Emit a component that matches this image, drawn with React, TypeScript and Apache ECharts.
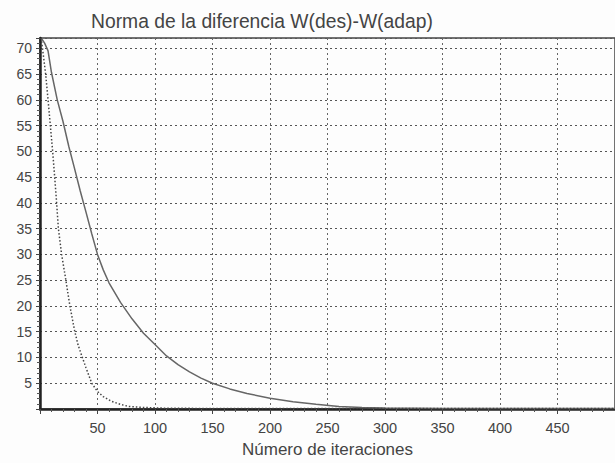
import React, { useEffect, useRef } from "react";
import * as echarts from "echarts";

const titleText = "Norma de la diferencia W(des)-W(adap)";
const xAxisName = "Número de iteraciones";

const solidX = [1, 4, 7, 10, 15, 20, 25, 30, 35, 40, 45, 50, 55, 60, 70, 80, 90, 100, 110, 120, 130, 140, 150, 165, 180, 200, 220, 240, 260, 280, 300, 350, 400, 450, 500];
const solidY = [72, 71, 69.5, 65.3, 60, 55.8, 51, 46.7, 42.3, 38.2, 34, 30, 27, 24.5, 20.7, 17.5, 14.7, 12.5, 10.3, 8.6, 7.2, 6, 5, 3.9, 3, 2.1, 1.4, 0.9, 0.5, 0.3, 0.2, 0.1, 0.1, 0.1, 0.1];

const dottedX = [1, 3, 5, 7, 9, 11, 12.6, 14.3, 16, 18.8, 22.5, 26, 30, 33, 36.5, 40, 45, 50, 55, 62, 70, 77, 90, 110, 150, 500];
const dottedY = [72, 68.5, 64.8, 60, 55, 50, 45.5, 40.5, 35, 30, 25, 20, 15.3, 12.5, 10.2, 8, 5, 3.4, 2.4, 1.5, 0.9, 0.5, 0.3, 0.15, 0.1, 0.1];

const font = "'Liberation Sans', Arial, sans-serif";

export default function App() {
  const ref = useRef<HTMLDivElement>(null);
  useEffect(() => {
    if (!ref.current) return;
    const chart = echarts.init(ref.current, undefined, { renderer: "svg" });
    const zip = (xs: number[], ys: number[]) => xs.map((x, i) => [x, ys[i]]);
    chart.setOption({
      animation: false,
      backgroundColor: "#fdfdfd",
      title: {
        text: titleText,
        left: 86,
        top: 7,
        textStyle: { fontFamily: font, fontSize: 19.3, fontWeight: "normal", color: "#444" },
      },
      grid: {
        left: 40,
        top: 38,
        width: 593,
        height: 372,
        show: true,
        borderColor: "#444",
        borderWidth: 1.5,
        backgroundColor: "transparent",
      },
      xAxis: {
        type: "value",
        min: 0,
        max: 500,
        interval: 50,
        name: xAxisName,
        nameLocation: "middle",
        nameGap: 32,
        nameTextStyle: { fontFamily: font, fontSize: 17, color: "#444" },
        axisLine: { show: true, lineStyle: { color: "#222", width: 2.5 } },
        axisTick: { show: true, length: 5, lineStyle: { color: "#444", width: 1 } },
        minorTick: { show: true, splitNumber: 5, length: 3, lineStyle: { color: "#555" } },
        axisLabel: {
          showMinLabel: false,
          showMaxLabel: false,
          margin: 11,
          fontFamily: font,
          fontSize: 14.5,
          color: "#444",
        },
        splitLine: { show: true, lineStyle: { color: "#666", width: 1, type: [2, 3] } },
      },
      yAxis: {
        type: "value",
        min: 0,
        max: 72,
        interval: 5,
        axisLine: { show: true, lineStyle: { color: "#222", width: 2.5 } },
        axisTick: { show: true, length: 4, lineStyle: { color: "#444", width: 1 } },
        minorTick: { show: true, splitNumber: 5, length: 3, lineStyle: { color: "#555" } },
        axisLabel: {
          showMinLabel: false,
          showMaxLabel: false,
          margin: 8,
          fontFamily: font,
          fontSize: 14,
          color: "#444",
        },
        splitLine: { show: true, lineStyle: { color: "#555", width: 1, type: [2, 3] } },
      },
      series: [
        {
          type: "line",
          data: zip(solidX, solidY),
          showSymbol: false,
          smooth: false,
          lineStyle: { color: "#666", width: 1.5, type: "solid" },
        },
        {
          type: "line",
          data: zip(dottedX, dottedY),
          showSymbol: false,
          smooth: false,
          lineStyle: { color: "#444", width: 1.5, type: [1.5, 2] },
        },
      ],
    });
    return () => chart.dispose();
  }, []);
  return (
    <div
      ref={ref}
      style={{ position: "fixed", left: 0, top: 0, width: 615, height: 463 }}
    />
  );
}
